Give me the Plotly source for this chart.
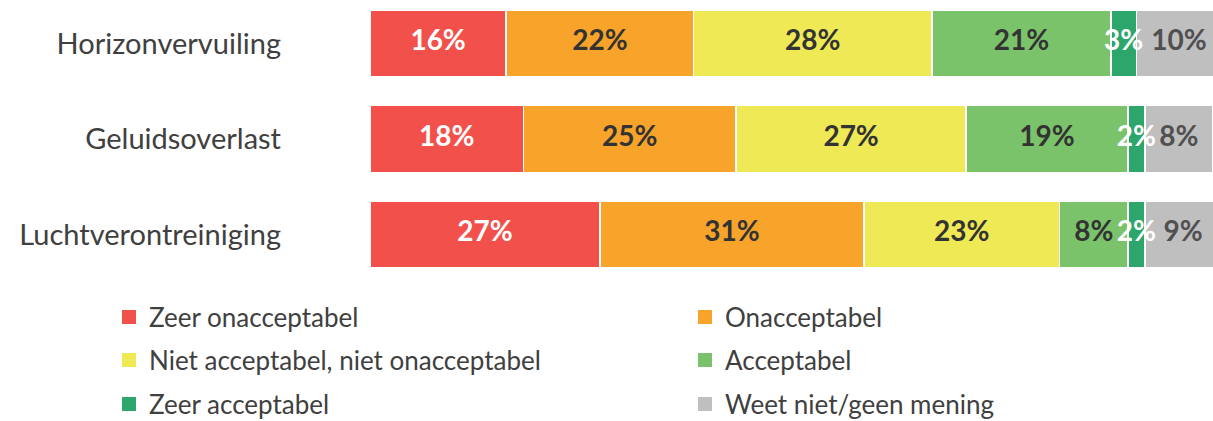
import plotly.graph_objects as go

categories = ["Horizonvervuiling", "Geluidsoverlast", "Luchtverontreiniging"]
series_names = ["Zeer onacceptabel", "Onacceptabel", "Niet acceptabel, niet onacceptabel",
                "Acceptabel", "Zeer acceptabel", "Weet niet/geen mening"]
zeer_onacceptabel = [16, 18, 27]
onacceptabel = [22, 25, 31]
neutraal = [28, 27, 23]
acceptabel = [21, 19, 8]
zeer_acceptabel = [3, 2, 2]
weet_niet = [10, 8, 9]

series_values = [zeer_onacceptabel, onacceptabel, neutraal, acceptabel, zeer_acceptabel, weet_niet]
colors = ["#F2514B", "#F8A42B", "#EEE955", "#7BC36A", "#2CA66A", "#BFBFBF"]
text_colors = ["#FFFFFF", "#333333", "#333333", "#333333", "#FFFFFF", "#505050"]
legend_ids = ["legend", "legend2", "legend3", "legend4", "legend5", "legend6"]

FONT = "Lato"
L_MARGIN = 370
PLOT_W = 1213 - L_MARGIN
PLOT_H = 300

fig = go.Figure()
for name, vals, col in zip(series_names, series_values, colors):
    fig.add_trace(go.Bar(
        y=categories, x=vals, name=name, orientation="h",
        marker=dict(color=col, line=dict(color="white", width=1.5)),
        showlegend=False, hoverinfo="skip",
    ))

# data labels drawn on top of all bars (centred on each segment)
cum = [0] * len(categories)
for name, vals, tcol in zip(series_names, series_values, text_colors):
    centers = [c + v / 2 for c, v in zip(cum, vals)]
    cum = [c + v for c, v in zip(cum, vals)]
    fig.add_trace(go.Scatter(
        x=centers, y=categories, mode="text",
        text=[f"{v}%" for v in vals], textposition="middle center",
        textfont=dict(family=FONT, size=28, color=tcol, weight="bold"),
        showlegend=False, hoverinfo="skip",
    ))

# legend-only entries (square swatches)
for name, col, lg in zip(series_names, colors, legend_ids):
    fig.add_trace(go.Scatter(
        x=[None], y=[None], mode="markers", name=name,
        marker=dict(symbol="square", size=14, color=col),
        showlegend=True, legend=lg, hoverinfo="skip",
    ))

leg_common = dict(orientation="h", xanchor="left", yanchor="middle",
                  font=dict(family=FONT, size=26, color="#404040"),
                  bgcolor="rgba(0,0,0,0)", itemclick=False, borderwidth=0)

col_x = [(109 - L_MARGIN) / PLOT_W, (685 - L_MARGIN) / PLOT_W]
row_y = [(PLOT_H - 317) / PLOT_H, (PLOT_H - 360) / PLOT_H, (PLOT_H - 404) / PLOT_H]

legends = {}
for i, lg in enumerate(legend_ids):
    legends[lg] = dict(x=col_x[i % 2], y=row_y[i // 2], **leg_common)

fig.update_layout(
    width=1213, height=421,
    margin=dict(l=L_MARGIN, r=0, t=0, b=421 - PLOT_H, autoexpand=False),
    barmode="stack", bargap=0.3,
    plot_bgcolor="white", paper_bgcolor="white",
    xaxis=dict(range=[0, 99], visible=False, showgrid=False, zeroline=False),
    yaxis=dict(range=[2.686, -0.455], showgrid=False, zeroline=False, showline=False,
               tickfont=dict(family=FONT, size=29, color="#404040"),
               ticklabelstandoff=88, ticks="", automargin=False),
    showlegend=True,
    **legends,
)

fig.write_html("out.html", config={"displayModeBar": False},
               post_script="document.body.style.margin='0';")
